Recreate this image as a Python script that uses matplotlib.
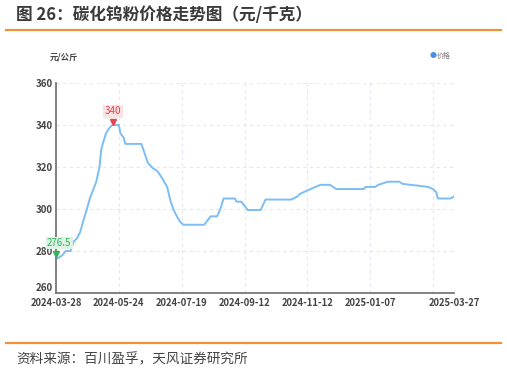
import matplotlib.pyplot as plt

plt.rcParams['font.family'] = ['Noto Sans CJK SC', 'DejaVu Sans']

# 价格曲线的拐点 (交易日序号, 元/公斤)
day_idx = [0, 1, 3, 4, 6, 9, 11, 13, 15, 17, 19, 21, 23, 25, 27, 28, 29, 31, 33, 35,
           39, 40, 42, 43, 53, 55, 57, 60, 63, 66, 69, 71, 73, 75, 77, 79,
           92, 94, 96, 100, 102, 104, 111, 112, 115, 117, 119, 127, 130, 146,
           150, 151, 155, 158, 161, 164, 170, 172, 174, 191, 192, 198, 200, 206,
           213, 215, 220, 226, 231, 234, 236, 237, 245, 247]
price = [276.5, 276.5, 277.5, 278, 280, 280, 284.5, 286, 289, 294.5, 299.5, 305, 309, 313, 320, 328, 331, 336, 338.5, 340,
         340, 336, 334, 331, 331, 326.5, 322, 319.5, 318, 314.5, 310.5, 304, 299.5, 296.5, 294, 292.5,
         292.5, 294.5, 296.5, 296.5, 300, 305, 305, 303.5, 303.5, 301.5, 299.5, 299.5, 304.5, 304.5,
         306, 307, 308.5, 309.5, 310.5, 311.5, 311.5, 310.5, 309.5, 309.5, 310.5, 310.5, 311.5, 313,
         313, 312, 311.5, 311, 310.5, 309.5, 308, 305, 305, 306]

tick_idx = [0, 39, 78, 117, 156, 195, 247]
tick_labels = ['2024-03-28', '2024-05-24', '2024-07-19', '2024-09-12',
               '2024-11-12', '2025-01-07', '2025-03-27']
grid_idx = [0, 39, 78, 117, 156, 195, 234, 247]
y_ticks = [260, 280, 300, 320, 340, 360]

max_i = price.index(max(price))
min_i = price.index(min(price))

fig = plt.figure(figsize=(5.07, 3.73), dpi=100)
ax = fig.add_axes([56 / 507, 1 - 293 / 373, 398 / 507, 210 / 373])

for g in grid_idx:
    ax.axvline(g, color='#e3e8f2', lw=0.8, ls=(0, (3, 3)), zorder=0)
for y in y_ticks[1:]:
    ax.axhline(y, color='#e3e8f2', lw=0.8, ls=(0, (3, 3)), zorder=0)

ax.plot(day_idx, price, color='#7bbdf4', lw=1.4, zorder=2)

ax.set_xlim(0, 247)
ax.set_ylim(260, 360)
ax.set_yticks(y_ticks)
ax.set_yticklabels([str(v) for v in y_ticks], fontsize=7, fontweight='bold', color='#444444')
ax.set_xticks(tick_idx)
ax.set_xticklabels(tick_labels, fontsize=6.8, fontweight='bold', color='#444444')
ax.tick_params(length=0)
ax.tick_params(axis='x', pad=3.5)
ax.tick_params(axis='y', pad=2)
ax.get_yticklabels()[0].set_va('bottom')
for s in ['top', 'right']:
    ax.spines[s].set_visible(False)
for s in ['left', 'bottom']:
    ax.spines[s].set_color('#777777')
    ax.spines[s].set_linewidth(1.3)

# 最大值 / 最小值标注
ax.plot(day_idx[max_i] + 0.5, max(price) + 1.3, marker='v', ms=5, color='#e0464e', zorder=3, clip_on=False)
ax.text(day_idx[max_i] + 0.5, max(price) + 6.5, '340', fontsize=7, color='#e0464e', ha='center', va='center',
        bbox=dict(boxstyle='square,pad=0.15', fc='#fbe3e3', ec='none'))
ax.plot(day_idx[min_i], min(price) + 2.3, marker='v', ms=5, color='#2fb35a', zorder=3, clip_on=False)
ax.text(day_idx[min_i] + 2, min(price) + 7.3, '276.5', fontsize=7, color='#2fb35a', ha='center', va='center',
        bbox=dict(boxstyle='square,pad=0.15', fc='#def3e4', ec='none'))

fig.text(50 / 507, 1 - 57 / 373, '元/公斤', fontsize=6, color='#444444', fontweight='bold', va='center')
fig.text(430 / 507, 1 - 56 / 373, '●', fontsize=5, color='#4a90e2', va='center')
fig.text(437 / 507, 1 - 56 / 373, '价格', fontsize=5, color='#777777', va='center')

fig.text(16 / 507, 1 - 15 / 373, '图 26：碳化钨粉价格走势图（元/千克）', fontsize=12, fontweight='bold',
         color='#3a3a3a', va='center')
fig.add_artist(plt.Line2D([6 / 507, 501 / 507], [1 - 29.5 / 373] * 2, color='#f0923c', lw=1.6))
fig.add_artist(plt.Line2D([6 / 507, 501 / 507], [1 - 343 / 373] * 2, color='#f0923c', lw=1.6))
fig.text(16 / 507, 1 - 359 / 373, '资料来源：百川盈孚，天风证券研究所', fontsize=9.8, color='#444444', va='center')

fig.savefig('out.png', dpi=100)
